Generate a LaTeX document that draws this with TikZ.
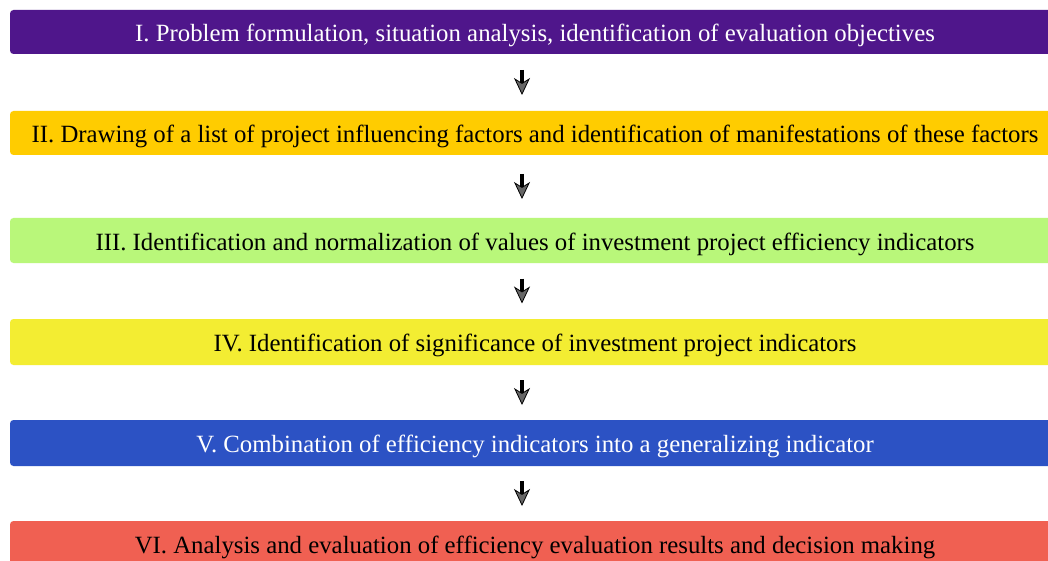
\documentclass[tikz,border=0pt]{standalone}
\usepackage{fontspec}
\setmainfont{Liberation Serif}
\usetikzlibrary{arrows.meta,calc}
\definecolor{cI}{RGB}{79,22,139}
\definecolor{cII}{RGB}{255,204,0}
\definecolor{cIII}{RGB}{185,247,122}
\definecolor{cIV}{RGB}{243,237,50}
\definecolor{cV}{RGB}{44,82,196}
\definecolor{cVI}{RGB}{240,96,82}
\tikzset{
  x=1pt, y=1pt,
  stagebox/.style={rectangle, rounded corners=3.5pt, draw=none, minimum width=1050pt,
    inner sep=0pt, text height=19pt, text depth=0pt,
    font=\fontsize{24.8}{28}\selectfont, text=black},
  flowarrow/.style={line width=3.5pt, black,
    -{Stealth[length=17pt, width=16pt, inset=5pt, line width=0.8pt, fill=black!60]}}
}
\begin{document}
\begin{tikzpicture}
\clip (0,0) rectangle (1048,-561);
\fill[white] (0,0) rectangle (1048,-561);
\node[stagebox, fill=cI, text=white, minimum height=44pt] (b1) at (535,-32)
  {I. Problem formulation, situation analysis, identification of evaluation objectives};
\node[stagebox, fill=cII, minimum height=44pt] (b2) at (535,-133)
  {II. Drawing of a list of project influencing factors and identification of manifestations of these factors};
\node[stagebox, fill=cIII, minimum height=45pt] (b3) at (535,-240.5)
  {III. Identification and normalization of values of investment project efficiency indicators};
\node[stagebox, fill=cIV, minimum height=46pt] (b4) at (535,-342)
  {IV. Identification of significance of investment project indicators};
\node[stagebox, fill=cV, text=white, minimum height=46pt] (b5) at (535,-443)
  {V. Combination of efficiency indicators into a generalizing indicator};
\node[stagebox, fill=cVI, minimum height=45pt] (b6) at (535,-543.5)
  {VI. Analysis and evaluation of efficiency evaluation results and decision making};
\foreach \a/\b in {b1/b2,b2/b3,b3/b4,b4/b5,b5/b6}{
  \coordinate (m) at ($(\a.south)!0.5!(\b.north)+(-13,0)$);
  \draw[flowarrow] ($(m)+(0,12.5)$) -- ($(m)+(0,-12.5)$);
}
\end{tikzpicture}
\end{document}
